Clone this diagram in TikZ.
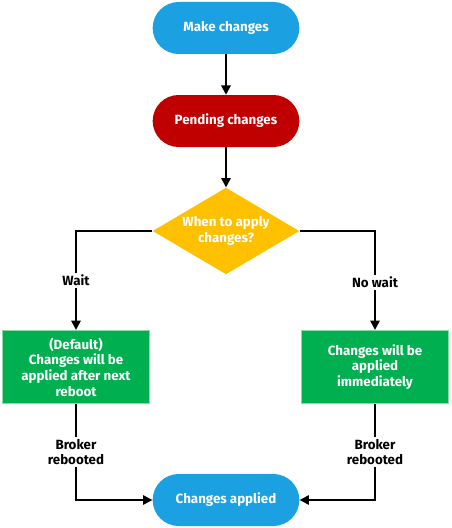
\documentclass[tikz,border=0pt]{standalone}
\usepackage{fontspec}
\setmainfont{Fira Sans}
\usepackage{xcolor}
\usetikzlibrary{shapes.geometric, arrows.meta, positioning}
\definecolor{pillblue}{HTML}{1BA1E2}
\definecolor{pendred}{HTML}{C00000}
\definecolor{askyellow}{HTML}{FFC000}
\definecolor{boxgreen}{HTML}{00B050}
\definecolor{boxedge}{HTML}{8FD9A8}

\begin{document}
\begin{tikzpicture}[x=0.75pt, y=-0.75pt,
    txt/.style={font=\fontsize{10}{11.7}\selectfont\bfseries, align=center},
    pill/.style={txt, text=white, minimum width=110pt, minimum height=39pt, rounded corners=19.5pt},
    ask/.style={diamond, fill=askyellow, minimum width=110pt, minimum height=65pt, inner sep=0pt},
    gbox/.style={txt, text=white, fill=boxgreen, draw=boxedge, line width=0.6pt, minimum width=110pt, minimum height=55pt},
    lbl/.style={txt, fill=white, inner sep=1.5pt},
    arr/.style={line width=1.5pt, -{Triangle[length=7pt, width=7pt]}}]
\useasboundingbox (0,0) rectangle (451,528);

% Top
\node[pill, fill=pillblue] (make) at (226,28) {Make changes};
\node[pill, fill=pendred] (pend) at (226,121) {Pending changes};
\node[ask, label={[txt, text=white]center:When to apply\\changes?}] (when) at (226,231) {};

% Branches
\node[gbox] (later) at (76,367) {(Default)\\Changes will be\\applied after next\\reboot};
\node[gbox] (now) at (375,367) {Changes will be\\applied\\immediately};

% Bottom
\node[pill, fill=pillblue] (done) at (226,500) {Changes applied};

\draw[arr] (make) -- (pend);
\draw[arr] (pend) -- (when);
\draw[arr] (when.west) -| node[lbl, pos=0.75] {Wait} (later.north);
\draw[arr] (when.east) -| node[lbl, pos=0.76] {No wait} (now.north);
\draw[arr] (later.south) |- node[lbl, pos=0.25] {Broker\\rebooted} (done.west);
\draw[arr] (now.south) |- node[lbl, pos=0.25] {Broker\\rebooted} (done.east);

\end{tikzpicture}
\end{document}
